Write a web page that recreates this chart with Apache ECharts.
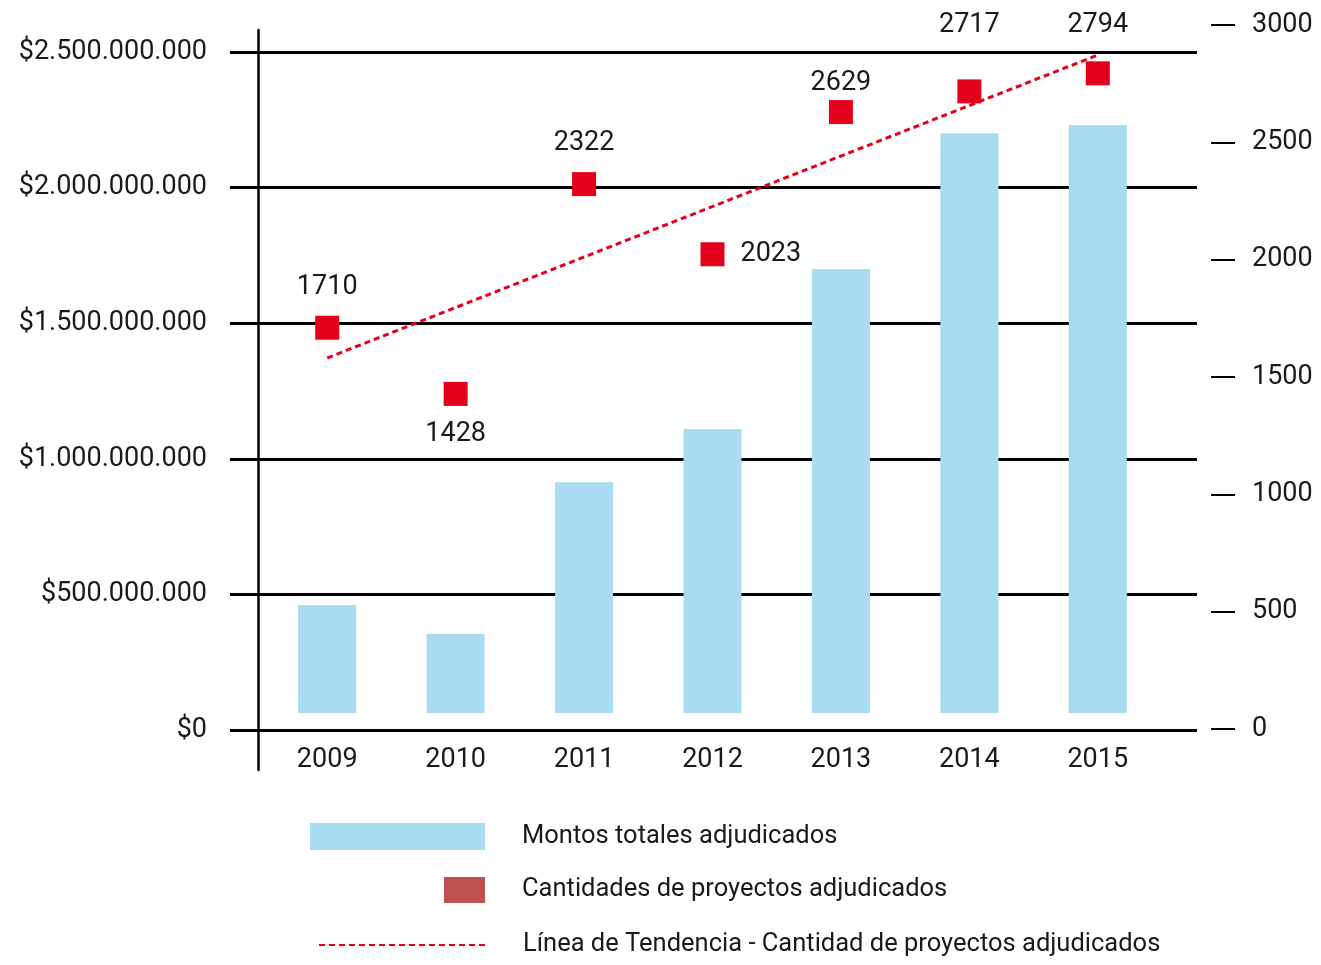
<!DOCTYPE html>
<html>
<head>
<meta charset="utf-8">
<title>Montos y proyectos adjudicados 2009-2015</title>
<script src="https://cdn.jsdelivr.net/npm/echarts@6/dist/echarts.min.js"></script>
<style>
  html, body { margin: 0; padding: 0; background: #fff; }
  #chart { width: 1321px; height: 965px; }
</style>
</head>
<body>
<div id="chart"></div>
<script>
  // datos
  var years = ['2009', '2010', '2011', '2012', '2013', '2014', '2015'];
  var montos = [461000000, 354000000, 914000000, 1110000000, 1700000000, 2200000000, 2231000000];
  var proyectos = [1710, 1428, 2322, 2023, 2629, 2717, 2794];
  var tendencia = [['2009', 1581], ['2015', 2872]];
  var montoTicks = [0, 500000000, 1000000000, 1500000000, 2000000000, 2500000000];
  var proyectoTicks = [0, 500, 1000, 1500, 2000, 2500, 3000];
  var serieNames = [
    'Montos totales adjudicados',
    'Cantidades de proyectos adjudicados',
    'Línea de Tendencia - Cantidad de proyectos adjudicados'
  ];

  // donde va cada etiqueta de los cuadrados rojos
  var labelPos = ['top', 'bottom', 'top', 'right', 'top', 'top', 'top'];
  var labelDist = [15, 15, 15, 16, 3, 41, 23];

  var font = 'Roboto, "Liberation Sans", sans-serif';
  var txt = '#1a1a1a';
  var rojo = '#e2001a';
  var fs = 27;

  function pesos(v) {
    return '$' + String(v).replace(/\B(?=(\d{3})+(?!\d))/g, '.');
  }

  var markerData = proyectos.map(function (v, i) {
    return { value: v, label: { position: labelPos[i], distance: labelDist[i] } };
  });

  // el texto de la leyenda va unos px mas abajo que el centro del icono
  var legendText = { fontSize: 25.5, color: txt, fontFamily: font, padding: [16, 0, 0, 32] };

  var option = {
    animation: false,
    textStyle: { fontFamily: font },
    grid: [
      { left: 258, right: 124, top: 52, bottom: 235, outerBoundsMode: 'none' },  // eje izq + lineas
      { left: 263, right: 159, top: 52, bottom: 252, outerBoundsMode: 'none' },  // barras
      { left: 263, right: 159, top: 25, bottom: 236, outerBoundsMode: 'none' },  // eje der + cuadrados
      { left: 258, width: 20, top: 30, bottom: 195, outerBoundsMode: 'none' }    // linea vertical
    ],
    xAxis: [
      { gridIndex: 0, type: 'category', data: years, show: false },
      {
        gridIndex: 1, type: 'category', data: years,
        axisLine: { show: false, onZero: false }, axisTick: { show: false },
        axisLabel: { fontSize: fs, color: txt, fontFamily: font, margin: 34 }
      },
      { gridIndex: 2, type: 'category', data: years, show: false },
      { gridIndex: 3, type: 'value', show: false }
    ],
    yAxis: [
      {
        gridIndex: 0, type: 'value',
        min: montoTicks[0], max: montoTicks[montoTicks.length - 1], interval: montoTicks[1] - montoTicks[0],
        axisLine: { show: false },
        axisTick: { show: true, length: 28, lineStyle: { color: '#000', width: 3 } },
        splitLine: { show: true, lineStyle: { color: '#000', width: 3 } },
        axisLabel: { fontSize: fs, color: txt, fontFamily: font, margin: 51, padding: [8, 0, 0, 0], formatter: pesos }
      },
      // las barras arrancan 17px sobre la linea de $0, igual que el original
      { gridIndex: 1, type: 'value', min: 62700000, max: montoTicks[montoTicks.length - 1], show: false },
      {
        gridIndex: 2, type: 'value', position: 'right', offset: 49,
        min: proyectoTicks[0], max: proyectoTicks[proyectoTicks.length - 1], interval: proyectoTicks[1] - proyectoTicks[0],
        axisLine: { show: false },
        axisTick: { show: true, length: 24, lineStyle: { color: '#000', width: 2 } },
        splitLine: { show: false },
        axisLabel: {
          fontSize: fs, color: txt, fontFamily: font, margin: 41,
          formatter: function (v) { return String(v); }
        }
      },
      {
        gridIndex: 3, type: 'value', position: 'left',
        axisLine: { show: true, onZero: false, lineStyle: { color: '#000', width: 2.5 } },
        axisTick: { show: false }, axisLabel: { show: false }, splitLine: { show: false }
      }
    ],
    legend: [
      {
        data: [serieNames[0]], left: 310, top: 823, padding: 0, selectedMode: false,
        icon: 'rect', itemWidth: 175, itemHeight: 27, textStyle: legendText
      },
      {
        data: [{ name: serieNames[1], itemStyle: { color: '#c0504d', opacity: 1 } }],
        left: 444, top: 877, padding: 0, selectedMode: false,
        icon: 'rect', itemWidth: 41, itemHeight: 26, textStyle: legendText
      },
      {
        data: [{ name: serieNames[2], itemStyle: { opacity: 0 } }],
        left: 318, top: 932, padding: 0, selectedMode: false,
        itemWidth: 167, itemHeight: 26, textStyle: legendText
      }
    ],
    series: [
      {
        name: serieNames[0], type: 'bar', xAxisIndex: 1, yAxisIndex: 1,
        data: montos, barWidth: 58, clip: true,
        itemStyle: { color: '#a8dcf2' }
      },
      {
        name: serieNames[1], type: 'scatter', xAxisIndex: 2, yAxisIndex: 2,
        data: markerData, symbol: 'rect', symbolSize: 24,
        itemStyle: { color: rojo, opacity: 1 },
        label: { show: true, fontSize: fs, color: txt, fontFamily: font },
        z: 3
      },
      {
        name: serieNames[2], type: 'line', xAxisIndex: 2, yAxisIndex: 2,
        data: tendencia, symbol: 'none',
        lineStyle: { color: rojo, width: 3, type: [6, 4] },
        itemStyle: { color: rojo },
        z: 4
      }
    ]
  };

  var chart = echarts.init(document.getElementById('chart'));
  chart.setOption(option);
</script>
</body>
</html>
